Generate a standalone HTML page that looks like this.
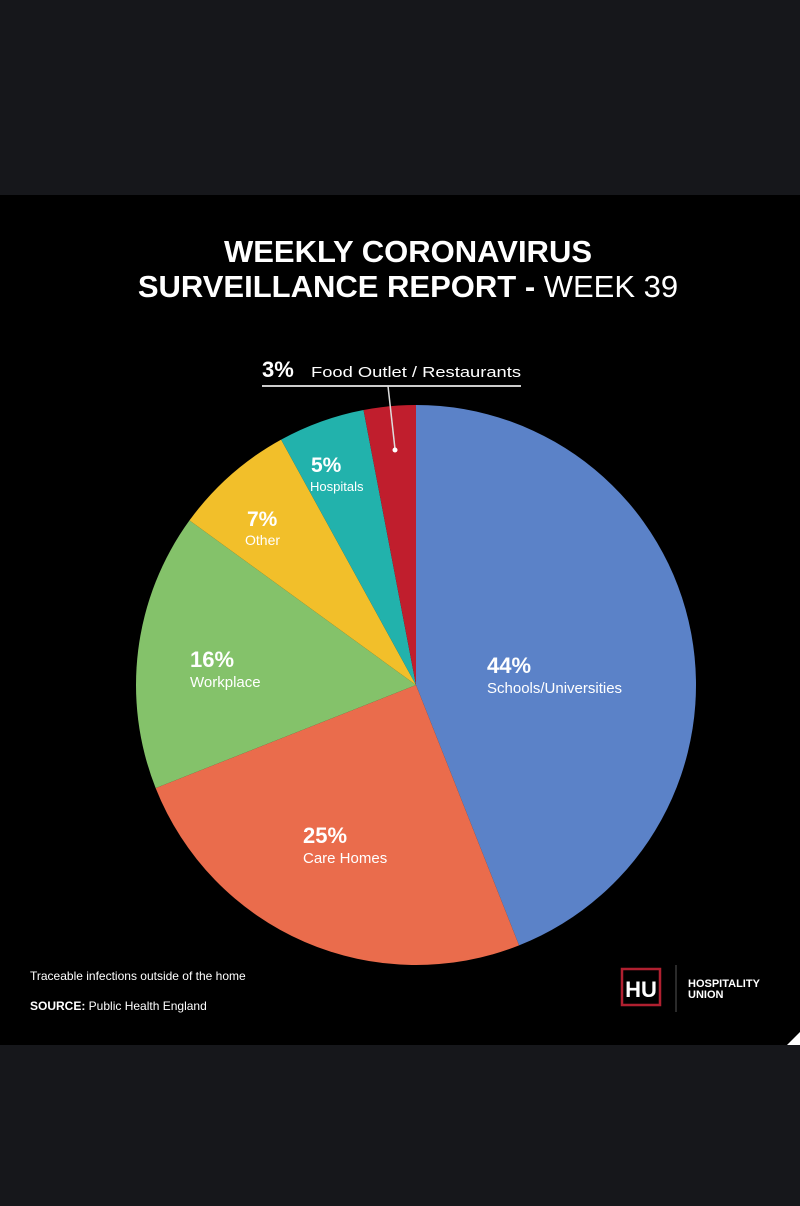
<!DOCTYPE html>
<html><head><meta charset="utf-8"><style>
body{margin:0;width:800px;height:1206px;background:#16171b;overflow:hidden;font-family:"Liberation Sans",sans-serif;}
</style></head><body>
<svg width="800" height="1206" xmlns="http://www.w3.org/2000/svg" style="position:absolute;left:0;top:0">
<rect x="0" y="0" width="800" height="1206" fill="#16171b"/>
<rect x="0" y="195" width="800" height="850" fill="#000"/>
<g id="pie"></g>
<g font-family="Liberation Sans, sans-serif" fill="#fff" text-anchor="middle">
<text x="408" y="262" font-size="31" font-weight="bold">WEEKLY CORONAVIRUS</text>
<text x="408" y="297" font-size="31"><tspan font-weight="bold">SURVEILLANCE REPORT - </tspan><tspan font-weight="normal">WEEK 39</tspan></text>
</g>
<g font-family="Liberation Sans, sans-serif" fill="#fff">
<text x="262" y="377" font-size="22" font-weight="bold">3%</text>
<text x="311" y="377" font-size="15" textLength="210" lengthAdjust="spacingAndGlyphs">Food Outlet / Restaurants</text>
<line x1="262" y1="386" x2="521" y2="386" stroke="#ccc" stroke-width="2"/>
<line x1="388" y1="386" x2="395" y2="449" stroke="#ddd" stroke-width="1.5"/>
<circle cx="395" cy="450" r="2.5" fill="#fff"/>
<text x="311" y="472" font-size="21" font-weight="bold">5%</text>
<text x="310" y="491" font-size="13">Hospitals</text>
<text x="247" y="526" font-size="21" font-weight="bold">7%</text>
<text x="245" y="545" font-size="14">Other</text>
<text x="190" y="667" font-size="22" font-weight="bold">16%</text>
<text x="190" y="687" font-size="15">Workplace</text>
<text x="487" y="673" font-size="22" font-weight="bold">44%</text>
<text x="487" y="693" font-size="15">Schools/Universities</text>
<text x="303" y="843" font-size="22" font-weight="bold">25%</text>
<text x="303" y="863" font-size="15">Care Homes</text>
<text x="30" y="980" font-size="12">Traceable infections outside of the home</text>
<text x="30" y="1010" font-size="12"><tspan font-weight="bold">SOURCE:</tspan> Public Health England</text>
<rect x="622" y="969" width="38" height="36" fill="none" stroke="#b02030" stroke-width="2.5"/>
<text x="641" y="997" font-size="22" font-weight="bold" text-anchor="middle">HU</text>
<line x1="676" y1="965" x2="676" y2="1012" stroke="#555" stroke-width="1"/>
<text x="688" y="987" font-size="11" font-weight="bold">HOSPITALITY</text>
<text x="688" y="998" font-size="11" font-weight="bold">UNION</text>
</g>
<polygon points="787,1045 800,1032 800,1045" fill="#fff"/>
</svg>
<script>
var cx=416,cy=685,r=280,vals=[44,25,16,7,5,3],cols=["#5b82c8","#ea6c4c","#84c26a","#f2bf2a","#22b2ac","#c01e2d"];
var a=0,g=document.getElementById("pie"),h="";
function p(d){var t=d*Math.PI/180;return (cx+r*Math.sin(t)).toFixed(2)+","+(cy-r*Math.cos(t)).toFixed(2);}
for(var i=0;i<vals.length;i++){var b=a+vals[i]*3.6;
h+='<path d="M'+cx+','+cy+' L'+p(a)+' A'+r+','+r+' 0 '+(b-a>180?1:0)+',1 '+p(b)+' Z" fill="'+cols[i]+'"/>';a=b;}
g.innerHTML=h;
</script>
</body></html>
